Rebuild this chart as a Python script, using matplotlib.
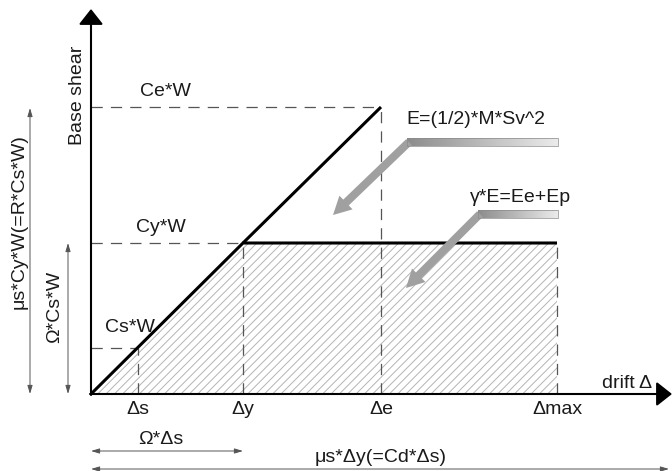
import numpy as np
import matplotlib
matplotlib.use('Agg')
import matplotlib.pyplot as plt
from matplotlib.patches import Polygon

plt.rcParams['font.family'] = ['Liberation Sans', 'DejaVu Sans']
plt.rcParams['hatch.linewidth'] = 0.7
plt.rcParams['hatch.color'] = '#b4b4b4'

# key points of the pushover curve (drift, base shear)
drift_labels = ['Δs', 'Δy', 'Δe', 'Δmax']
drift_vals = [47, 152, 290, 466]
shear_labels = ['Cs*W', 'Cy*W', 'Ce*W']
shear_vals = [46, 151, 287]

# bilinear curve: origin -> yield -> plateau to Δmax ; elastic line to Δe
curve_x = [0, drift_vals[1], drift_vals[3]]
curve_y = [0, shear_vals[1], shear_vals[1]]
elastic_x = [drift_vals[1], drift_vals[2]]
elastic_y = [shear_vals[1], shear_vals[2]]

fig = plt.figure(figsize=(6.72, 4.71), dpi=100)
ax = fig.add_axes([0, 0, 1, 1])
ax.set_xlim(-91, 581)
ax.set_ylim(-77, 394)
ax.axis('off')

txt = dict(fontsize=14, color='#1a1a1a')
dash = dict(color='#555555', lw=0.9, dashes=(9, 6.5))

# hatched energy area
ax.add_patch(Polygon([(0, 0), (curve_x[1], curve_y[1]), (curve_x[2], curve_y[2]),
                      (curve_x[2], 0)], closed=True, facecolor='none',
                     edgecolor='#b4b4b4', lw=0, hatch='////'))

# dashed guide lines
pts = [(drift_vals[0], shear_vals[0]), (drift_vals[1], shear_vals[1]),
       (drift_vals[2], shear_vals[2])]
for x, y in pts:
    ax.plot([0, x], [y, y], **dash)
    ax.plot([x, x], [0, y], **dash)
ax.plot([drift_vals[3], drift_vals[3]], [0, shear_vals[1]], **dash)

# curves
ax.plot(curve_x, curve_y, color='black', lw=2.2, solid_capstyle='butt')
ax.plot(elastic_x, elastic_y, color='black', lw=2.2, solid_capstyle='butt')

# axes with arrows
axarrow = dict(arrowstyle='-|>,head_length=0.95,head_width=0.75', color='black',
               lw=1.5, mutation_scale=10, shrinkA=0, shrinkB=0)
ax.annotate('', xy=(0, 385), xytext=(0, -1), arrowprops=axarrow)
ax.annotate('', xy=(581, 0), xytext=(-1, 0), arrowprops=axarrow)
ax.text(-13, 299, 'Base shear', rotation=90, ha='center', va='center', **txt)
ax.text(536, 11, 'drift Δ', ha='center', va='center', **txt)

# labels
for lab, x in zip(drift_labels, drift_vals):
    ax.text(x, -15, lab, ha='center', va='center', **txt)
shear_pos = [(39, 67), (70, 166), (74, 302)]
for lab, (x, y) in zip(shear_labels, shear_pos):
    ax.text(x, y, lab, ha='center', va='center', **txt)

# dimension arrows
dim = dict(arrowstyle='<|-|>,head_length=0.5,head_width=0.15', color='#555555',
           lw=0.7, mutation_scale=10, shrinkA=0, shrinkB=0)
ax.annotate('', xy=(-61, 286), xytext=(-61, 0), arrowprops=dim)
ax.text(-72, 172, 'μs*Cy*W(=R*Cs*W)', rotation=90, ha='center', va='center', **txt)
ax.annotate('', xy=(-23, shear_vals[1]), xytext=(-23, 0), arrowprops=dim)
ax.text(-36, 87, 'Ω*Cs*W', rotation=90, ha='center', va='center', **txt)
ax.annotate('', xy=(0, -57), xytext=(drift_vals[1], -57), arrowprops=dim)
ax.text(70, -46, 'Ω*Δs', ha='center', va='center', **txt)
ax.annotate('', xy=(0, -75), xytext=(578, -75), arrowprops=dim)
ax.text(290, -63, 'μs*Δy(=Cd*Δs)', ha='center', va='center', **txt)

# gray callout arrows
callouts = [('E=(1/2)*M*Sv^2', (315, 274), 316, 467, 252, (242, 179)),
            ('γ*E=Ee+Ep', (379, 197), 387, 467, 180, (315, 106))]
grad = np.linspace(0.55, 0.92, 100)[None, :]
for label, tpos, x0, x1, yb, tip in callouts:
    ax.text(tpos[0], tpos[1], label, ha='left', va='center', **txt)
    ax.imshow(grad, extent=(x0, x1, yb - 4, yb + 4), cmap='gray', vmin=0, vmax=1,
              aspect='auto', zorder=3)
    ax.add_patch(plt.Rectangle((x0, yb - 4), x1 - x0, 8, fill=False,
                               edgecolor='#8a8a8a', lw=0.5, zorder=4))
    ax.arrow(x0 + 2, yb, tip[0] - x0 - 2, tip[1] - yb, width=8, head_width=19,
             head_length=18, length_includes_head=True, color='#a0a0a0', lw=0,
             zorder=3)

ax.set_xlim(-91, 581)
ax.set_ylim(-77, 394)
fig.savefig('out.png', dpi=100)
